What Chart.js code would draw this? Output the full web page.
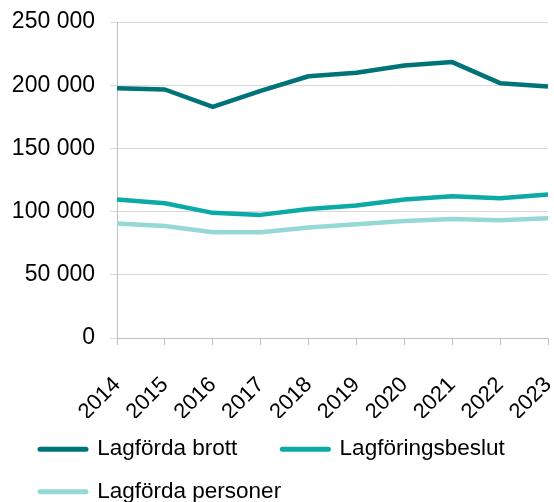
<!DOCTYPE html>
<html>
<head>
<meta charset="utf-8">
<script src="https://cdn.jsdelivr.net/npm/chart.js@4/dist/chart.umd.min.js"></script>
<style>
  html, body { margin: 0; padding: 0; background: #fff; }
  #wrap { width: 554px; height: 502px; }
</style>
</head>
<body>
<div id="wrap"><canvas id="chart" width="554" height="502"></canvas></div>
<script>
// years on the x axis
const years = ['2014', '2015', '2016', '2017', '2018', '2019', '2020', '2021', '2022', '2023'];

// values
const lagfordaBrott = [197600, 196600, 182800, 195500, 207100, 209800, 215600, 218300, 201600, 199000];
const lagforingsbeslut = [109500, 106600, 99000, 97400, 102100, 104800, 109500, 112100, 110600, 113500];
const lagfordaPersoner = [90500, 88600, 83600, 83600, 87500, 89900, 92600, 94200, 93100, 94700];

const seriesNames = ['Lagförda brott', 'Lagföringsbeslut', 'Lagförda personer'];
const seriesColors = ['#007377', '#0caaa6', '#96d8d6'];

const fontFamily = '"Liberation Sans", Arial, sans-serif';

function spaced(v) {
  return String(v).replace(/\B(?=(\d{3})+(?!\d))/g, ' ');
}

function makeSet(i, values) {
  return {
    label: seriesNames[i],
    data: values,
    borderColor: seriesColors[i],
    backgroundColor: seriesColors[i],
    borderWidth: 4.5,
    borderJoinStyle: 'round',
    pointRadius: 0,
    tension: 0
  };
}

// nudge the legend to the right so it starts under the axis labels
const legendShift = {
  id: 'legendShift',
  afterLayout(chart) {
    chart.legend.left += 20;
    chart.legend.right += 20;
  }
};

new Chart(document.getElementById('chart'), {
  type: 'line',
  data: {
    labels: years,
    datasets: [
      makeSet(0, lagfordaBrott),
      makeSet(1, lagforingsbeslut),
      makeSet(2, lagfordaPersoner)
    ]
  },
  plugins: [legendShift],
  options: {
    responsive: false,
    animation: false,
    layout: { padding: { left: 0, right: 6, top: 22, bottom: -11 } },
    plugins: {
      tooltip: { enabled: false },
      legend: {
        position: 'bottom',
        align: 'start',
        labels: {
          font: { family: fontFamily, size: 22.5 },
          color: '#000',
          padding: 20,
          usePointStyle: true,
          pointStyle: 'line',
          pointStyleWidth: 46,
          boxHeight: 5,
          generateLabels(chart) {
            return chart.data.datasets.map((ds, i) => ({
              text: i === 0 ? ds.label + '\u00a0\u00a0\u00a0\u00a0' : ds.label,
              strokeStyle: ds.borderColor,
              fillStyle: ds.borderColor,
              lineWidth: 5,
              lineCap: 'round',
              pointStyle: 'line',
              datasetIndex: i
            }));
          }
        }
      }
    },
    scales: {
      x: {
        offset: false,
        grid: { drawOnChartArea: false, drawTicks: true, tickLength: 7, color: '#bfbfbf' },
        border: { color: '#bfbfbf' },
        ticks: {
          font: { family: fontFamily, size: 22 },
          color: '#000',
          maxRotation: 45,
          minRotation: 45,
          padding: 27,
          autoSkip: false
        },
        afterFit(scale) {
          scale.height = 80;
          scale.paddingLeft = 0;
          scale.paddingRight = 0;
        }
      },
      y: {
        min: 0,
        max: 250000,
        grid: { color: '#d9d9d9', tickLength: 7 },
        border: { color: '#bfbfbf' },
        ticks: {
          stepSize: 50000,
          font: { family: fontFamily, size: 23 },
          color: '#000',
          padding: 15,
          callback: (v) => spaced(v)
        },
        afterFit(scale) {
          scale.width = 117;
          scale.paddingTop = 0;
          scale.paddingBottom = 0;
        }
      }
    }
  }
});
</script>
</body>
</html>
